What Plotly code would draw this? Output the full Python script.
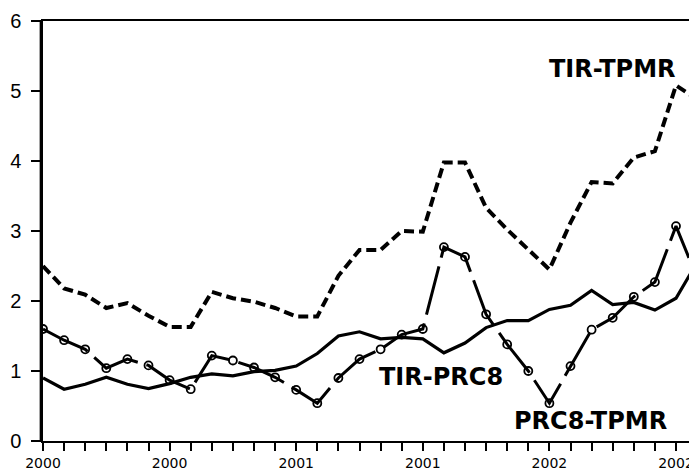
import plotly.graph_objects as go

# monthly index, Jan 2000 = 0
months = list(range(32))
tick_labels = {0: "2000", 6: "2000", 12: "2001", 18: "2001", 24: "2002", 30: "2002"}

tir_tpmr = [2.50, 2.18, 2.09, 1.90, 1.97, 1.79, 1.63, 1.63, 2.13, 2.04,
            1.99, 1.90, 1.78, 1.78, 2.36, 2.73, 2.73, 3.00, 2.99, 3.98,
            3.98, 3.33, 3.02, 2.73, 2.45, 3.12, 3.70, 3.68, 4.05, 4.14,
            5.08, 4.88]

tir_prc8 = [0.90, 0.74, 0.81, 0.91, 0.81, 0.75, 0.82, 0.91, 0.96, 0.93,
            0.99, 1.01, 1.07, 1.25, 1.50, 1.56, 1.46, 1.48, 1.46, 1.26,
            1.40, 1.62, 1.72, 1.72, 1.88, 1.94, 2.15, 1.95, 1.98, 1.87,
            2.04, 2.55]

prc8_tpmr = [1.60, 1.44, 1.31, 1.04, 1.17, 1.08, 0.87, 0.74, 1.22, 1.15,
             1.05, 0.91, 0.73, 0.54, 0.90, 1.17, 1.31, 1.52, 1.60, 2.77,
             2.63, 1.81, 1.38, 1.00, 0.54, 1.07, 1.59, 1.76, 2.06, 2.27,
             3.07, 2.33]

fig = go.Figure()
fig.add_trace(go.Scatter(x=months, y=tir_tpmr, mode="lines", name="TIR-TPMR",
                         line=dict(color="black", width=4, dash="10px,5px")))
fig.add_trace(go.Scatter(x=months, y=tir_prc8, mode="lines", name="TIR-PRC8",
                         line=dict(color="black", width=3.2)))
fig.add_trace(go.Scatter(x=months, y=prc8_tpmr, mode="lines+markers", name="PRC8-TPMR",
                         line=dict(color="black", width=3, dash="50px,9px"),
                         marker=dict(symbol="circle-open", size=8, color="black",
                                     line=dict(width=1.8, color="black"))))

lab_font = dict(family="DejaVu Sans", size=24, color="black", weight="bold")
fig.add_annotation(x=27.0, y=5.31, xref="x", yref="y", text="TIR-TPMR",
                   showarrow=False, font=lab_font, xanchor="center", yanchor="middle")
fig.add_annotation(x=18.86, y=0.92, xref="x", yref="y", text="TIR-PRC8",
                   showarrow=False, font=lab_font, xanchor="center", yanchor="middle")
fig.add_annotation(x=25.93, y=0.29, xref="x", yref="y", text="PRC8-TPMR",
                   showarrow=False, font=lab_font, xanchor="center", yanchor="middle")

# double left frame line
fig.add_shape(type="line", xref="paper", yref="paper", x0=-2.6/654, x1=-2.6/654,
              y0=0, y1=1, line=dict(color="black", width=1.5))

fig.update_xaxes(range=[0, 654/21.1], tickmode="array", tickvals=months,
                 ticktext=[tick_labels.get(m, "") for m in months],
                 ticks="outside", ticklen=8, tickwidth=1.5, tickcolor="black",
                 showline=True, linecolor="black", linewidth=1.5, mirror=True,
                 showgrid=False, zeroline=False, automargin=False,
                 ticklabelstandoff=0,
                 tickfont=dict(family="DejaVu Sans", size=14, color="black"))
fig.update_yaxes(range=[0, 6], tickvals=[0, 1, 2, 3, 4, 5, 6],
                 ticks="outside", ticklen=10, tickwidth=1.5, tickcolor="black",
                 showline=True, linecolor="black", linewidth=1.5,
                 showgrid=False, zeroline=False, automargin=False,
                 ticklabelstandoff=6,
                 tickfont=dict(family="Liberation Sans", size=20, color="black"))

# page body adds an 8px offset, so the figure is 8px smaller
fig.update_layout(width=689, height=460, margin=dict(l=35, r=0, t=13, b=27),
                  paper_bgcolor="white", plot_bgcolor="white", showlegend=False)

fig.write_html("out.html")
